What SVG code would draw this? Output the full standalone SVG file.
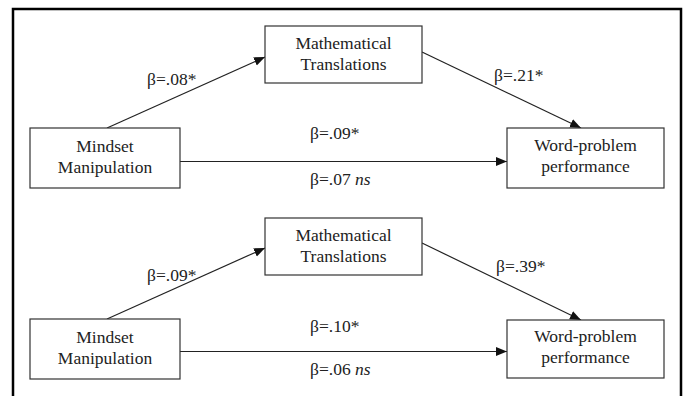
<svg xmlns="http://www.w3.org/2000/svg" width="688" height="396" viewBox="0 0 688 396">
<style>
.box{fill:#fff;stroke:#333;stroke-width:1.2}
text{font-family:'Liberation Serif','DejaVu Serif',serif;font-size:17.5px;fill:#222}
.c{text-anchor:middle}
.ln{stroke:#222;stroke-width:1.2;fill:none}
</style>
<defs>
<marker id="ah" markerUnits="userSpaceOnUse" markerWidth="12" markerHeight="10" refX="11" refY="4.5" orient="auto">
<path d="M0,0 L11,4.5 L0,9 z" fill="#111"/>
</marker>
</defs>
<rect width="688" height="396" fill="#fff"/>
<path d="M13,396 V9 H681 V396" fill="none" stroke="#000" stroke-width="2.5"/>
<g id="connectors" font-family="Liberation Serif, DejaVu Serif, serif">
<line class="ln" x1="107" y1="128" x2="265" y2="57" marker-end="url(#ah)"/>
<line class="ln" x1="422" y1="52" x2="581" y2="128" marker-end="url(#ah)"/>
<line class="ln" x1="180" y1="161.5" x2="507" y2="161.5" marker-end="url(#ah)"/>
<line class="ln" x1="107" y1="319" x2="265" y2="248" marker-end="url(#ah)"/>
<line class="ln" x1="422" y1="243" x2="581" y2="320" marker-end="url(#ah)"/>
<line class="ln" x1="180" y1="351.5" x2="507" y2="351.5" marker-end="url(#ah)"/>
<text x="147" y="85">β=.08*</text>
<text x="494" y="81">β=.21*</text>
<text x="310" y="139">β=.09*</text>
<text x="310" y="185">β=.07 <tspan font-style="italic">ns</tspan></text>
<text x="147" y="281">β=.09*</text>
<text x="496" y="272">β=.39*</text>
<text x="310" y="332">β=.10*</text>
<text x="310" y="375">β=.06 <tspan font-style="italic">ns</tspan></text>
</g>
<g id="mindset1">
<rect class="box" x="30" y="128" width="150" height="60"/>
<text class="c" x="105" y="152">Mindset</text>
<text class="c" x="105" y="173">Manipulation</text>
</g>
<g id="math1">
<rect class="box" x="265" y="26" width="157" height="57"/>
<text class="c" x="343.5" y="49">Mathematical</text>
<text class="c" x="343.5" y="70">Translations</text>
</g>
<g id="word1">
<rect class="box" x="507" y="128" width="157" height="60"/>
<text class="c" x="585.5" y="151">Word-problem</text>
<text class="c" x="585.5" y="172">performance</text>
</g>
<g id="mindset2">
<rect class="box" x="30" y="319" width="150" height="60"/>
<text class="c" x="105" y="343">Mindset</text>
<text class="c" x="105" y="364">Manipulation</text>
</g>
<g id="math2">
<rect class="box" x="265" y="218" width="157" height="57"/>
<text class="c" x="343.5" y="241">Mathematical</text>
<text class="c" x="343.5" y="262">Translations</text>
</g>
<g id="word2">
<rect class="box" x="507" y="320" width="157" height="58"/>
<text class="c" x="585.5" y="342">Word-problem</text>
<text class="c" x="585.5" y="363">performance</text>
</g>
</svg>
